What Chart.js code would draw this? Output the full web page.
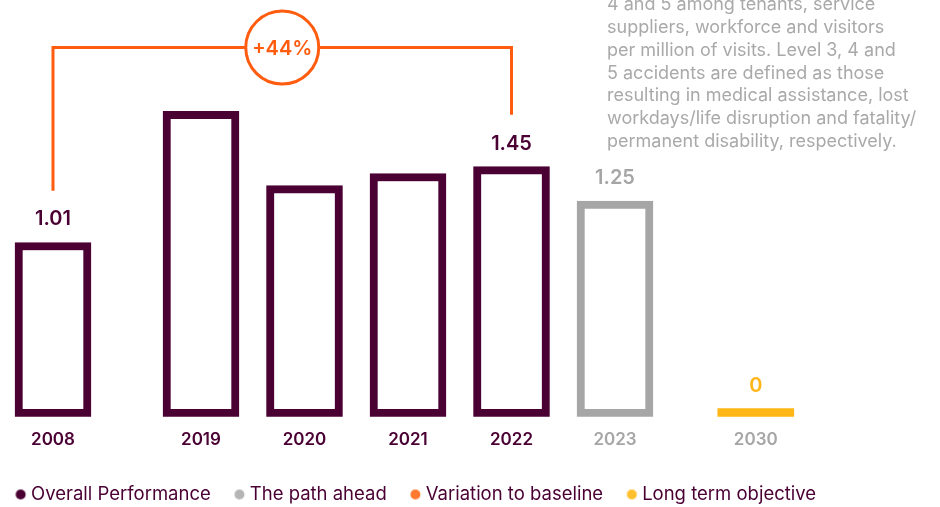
<!DOCTYPE html>
<html>
<head>
<meta charset="utf-8">
<script src="https://cdn.jsdelivr.net/npm/chart.js@4.4.0/dist/chart.umd.min.js"></script>
<style>
  html, body { margin: 0; padding: 0; background: #fff; }
  #wrap { position: relative; width: 940px; height: 507px; }
</style>
</head>
<body>
<div id="wrap"><canvas id="chart"></canvas></div>
<script>
  // --- data ---
  const years = ['2008', '2019', '2020', '2021', '2022', '2023', '2030'];
  const xSlot = [0, 1.43, 2.43, 3.43, 4.43, 5.43, 6.79]; // broken time axis (baseline + recent years + target)
  const overall = [1.01, 1.77, 1.34, 1.41, 1.45];        // 2008 .. 2022
  const pathAhead = [1.25];                              // 2023
  const longTerm = [0];                                  // 2030
  const labelledYears = ['2008', '2022', '2023', '2030'];
  const noteLines = [
    '4 and 5 among tenants, service',
    'suppliers, workforce and visitors',
    'per million of visits. Level 3, 4 and',
    '5 accidents are defined as those',
    'resulting in medical assistance, lost',
    'workdays/life disruption and fatality/',
    'permanent disability, respectively.'
  ];

  const MAROON = '#4a0033';
  const GRAY = '#a6a6a6';
  const ORANGE = '#ff5c0f';
  const YELLOW = '#ffb617';
  const FONT = 'Inter, "Open Sans", sans-serif';

  // bracket from the 2008 baseline to 2022
  const baseVal = overall[0];
  const lastVal = overall[overall.length - 1];
  const variation = Math.round((lastVal / baseVal - 1) * 100);
  const lift = 0.3;
  const bracketTop = Math.max(...overall) + 0.37;
  const bracket = [
    { x: xSlot[0], y: baseVal + lift },
    { x: xSlot[0], y: bracketTop },
    { x: xSlot[4], y: bracketTop },
    { x: xSlot[4], y: lastVal + lift }
  ];

  const barStyle = {
    type: 'bar',
    backgroundColor: '#ffffff',
    borderWidth: 8,
    borderSkipped: false,
    barThickness: 76,
    grouped: false
  };

  // legend dot, drawn a little right of the box centre
  function dot(color) {
    const c = document.createElement('canvas');
    c.width = 20; c.height = 12;
    const g = c.getContext('2d');
    g.fillStyle = color;
    g.beginPath();
    g.arc(12.3, 6, 5, 0, Math.PI * 2);
    g.fill();
    return c;
  }

  const valueLabels = {
    id: 'valueLabels',
    afterDatasetsDraw(chart) {
      const ctx = chart.ctx;
      ctx.save();
      ctx.textAlign = 'center';
      ctx.textBaseline = 'middle';
      ctx.font = '600 20px ' + FONT;
      chart.data.datasets.forEach((ds, di) => {
        if (ds.type !== 'bar') return;
        const meta = chart.getDatasetMeta(di);
        meta.data.forEach((el, i) => {
          const pt = ds.data[i];
          const yr = years[xSlot.indexOf(pt.x)];
          if (!labelledYears.includes(yr)) return;
          ctx.fillStyle = ds.labelColor;
          ctx.fillText(String(pt.y), el.x, el.y - 23);
        });
      });

      // +44% badge at the middle of the bracket
      const xs = chart.scales.x, ys = chart.scales.y;
      const cx = (xs.getPixelForValue(xSlot[0]) + xs.getPixelForValue(xSlot[4])) / 2;
      const cy = ys.getPixelForValue(bracketTop);
      ctx.beginPath();
      ctx.arc(cx, cy, 36.5, 0, Math.PI * 2);
      ctx.fillStyle = '#fff';
      ctx.fill();
      ctx.lineWidth = 3;
      ctx.strokeStyle = ORANGE;
      ctx.stroke();
      ctx.fillStyle = ORANGE;
      ctx.font = '600 20px ' + FONT;
      ctx.fillText('+' + variation + '%', cx, cy + 1);

      // footnote text, top right
      ctx.textAlign = 'left';
      ctx.font = '18px ' + FONT;
      ctx.fillStyle = '#a9a9a9';
      noteLines.forEach((t, i) => ctx.fillText(t, 607, 5 + i * 22.7));
      ctx.restore();
    }
  };

  const legendColors = [MAROON, '#b5b5b5', '#ff7a2e', '#ffc02e'];

  new Chart(document.getElementById('chart'), {
    type: 'bar',
    data: {
      datasets: [
        Object.assign({}, barStyle, {
          label: 'Overall Performance',
          data: overall.map((v, i) => ({ x: xSlot[i], y: v })),
          borderColor: MAROON,
          labelColor: MAROON
        }),
        Object.assign({}, barStyle, {
          label: 'The path ahead',
          data: pathAhead.map((v, i) => ({ x: xSlot[5 + i], y: v })),
          borderColor: GRAY,
          labelColor: GRAY
        }),
        {
          type: 'line',
          label: 'Variation to baseline',
          data: bracket,
          borderColor: ORANGE,
          backgroundColor: ORANGE,
          borderWidth: 3,
          pointRadius: 0,
          fill: false,
          tension: 0
        },
        Object.assign({}, barStyle, {
          label: 'Long term objective',
          data: longTerm.map((v, i) => ({ x: xSlot[6 + i], y: v })),
          backgroundColor: YELLOW,
          borderColor: YELLOW,
          borderWidth: 0,
          minBarLength: 8,
          labelColor: YELLOW
        })
      ]
    },
    options: {
      responsive: true,
      maintainAspectRatio: false,
      animation: false,
      layout: { padding: { left: -8, right: 0, top: 0, bottom: -6.75 } },
      plugins: {
        tooltip: { enabled: false },
        legend: {
          position: 'bottom',
          align: 'start',
          labels: {
            usePointStyle: true,
            boxWidth: 6.75,
            boxHeight: 6,
            padding: 23,
            color: MAROON,
            font: { family: FONT, size: 18.5 },
            generateLabels(chart) {
              const items = Chart.defaults.plugins.legend.labels.generateLabels(chart);
              items.forEach((it, i) => {
                it.pointStyle = dot(legendColors[i]);
                it.lineWidth = 0;
              });
              return items;
            }
          }
        }
      },
      scales: {
        x: {
          type: 'linear',
          offset: false,
          min: -0.512,
          max: 8.57,
          grid: { display: false, drawTicks: false, offset: false },
          border: { display: false },
          afterBuildTicks(axis) {
            axis.ticks = xSlot.map(v => ({ value: v }));
          },
          ticks: {
            autoSkip: false,
            maxRotation: 0,
            padding: 12.6,
            font: { family: FONT, size: 17, weight: '600' },
            color: (c) => (c.index < 5 ? MAROON : GRAY),
            callback: (v, i) => years[i]
          }
        },
        y: {
          display: false,
          min: 0,
          max: 2.416
        }
      }
    },
    plugins: [valueLabels]
  });
</script>
</body>
</html>
